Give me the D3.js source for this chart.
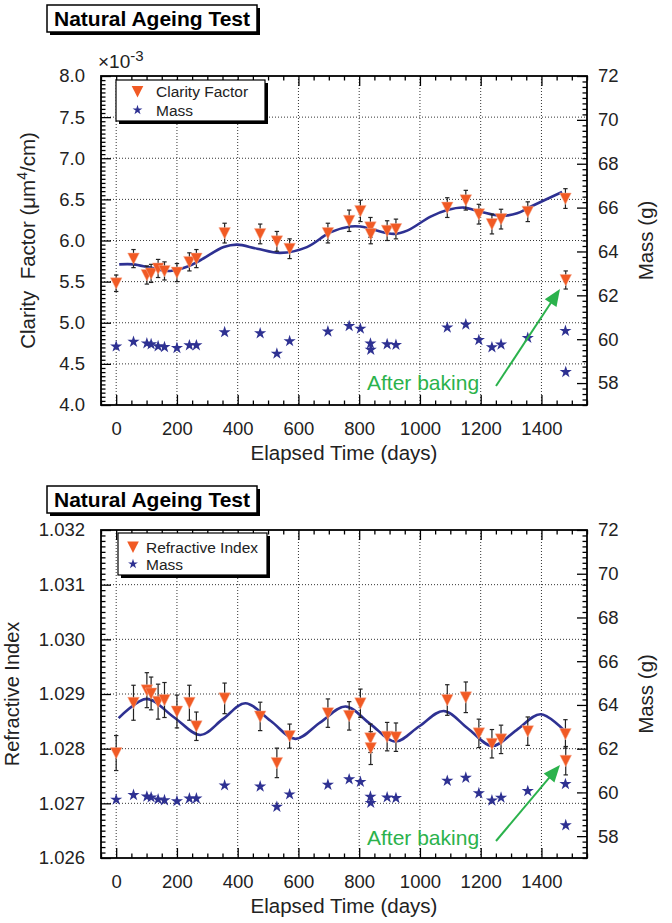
<!DOCTYPE html>
<html>
<head>
<meta charset="utf-8">
<script src="https://cdn.jsdelivr.net/npm/d3@7"></script>
<style>
  body { margin: 0; background: #fff; }
  svg { display: block; font-family: "Liberation Sans", Arial, Helvetica, sans-serif; }
</style>
</head>
<body>
<script>
// measurement days (shared by both panels)
const days = [0, 57, 101, 115, 138, 159, 200, 241, 264, 357, 474, 529, 571, 697, 767, 804, 837, 838,
  892, 921, 1090, 1151, 1194, 1237, 1267, 1355, 1479, 1480];

// clarity factor (x10^-3 um^4/cm) and its error
const clarity = [5.48, 5.78, 5.58, 5.60, 5.66, 5.63, 5.61, 5.74, 5.78, 6.09, 6.08, 5.99, 5.90, 6.09,
  6.24, 6.36, 6.16, 6.08, 6.12, 6.14, 6.40, 6.49, 6.32, 6.20, 6.26, 6.35, 6.51, 5.52];
const clarityErr = [0.10, 0.11, 0.11, 0.11, 0.11, 0.11, 0.11, 0.11, 0.11, 0.12, 0.12, 0.12, 0.12, 0.12,
  0.13, 0.13, 0.12, 0.12, 0.12, 0.12, 0.12, 0.12, 0.12, 0.12, 0.12, 0.12, 0.12, 0.11];

// refractive index and its error
const refIndex = [1.02792, 1.02884, 1.02907, 1.02901, 1.02886, 1.02889, 1.02868, 1.02884, 1.02841,
  1.02892, 1.02859, 1.02774, 1.02823, 1.02865, 1.02860, 1.02883, 1.02819, 1.02801, 1.02822, 1.02821,
  1.02889, 1.02894, 1.02828, 1.02809, 1.02817, 1.02832, 1.02827, 1.02778];
const refErr = [0.00032, 0.00032, 0.00032, 0.00030, 0.00032, 0.00032, 0.00030, 0.00032, 0.00026,
  0.00028, 0.00026, 0.00027, 0.00022, 0.00026, 0.00026, 0.00026, 0.00026, 0.00030, 0.00026, 0.00026,
  0.00028, 0.00028, 0.00026, 0.00026, 0.00026, 0.00026, 0.00026, 0.00026];

// mass (g)
const mass = [59.67, 59.88, 59.81, 59.77, 59.68, 59.64, 59.60, 59.72, 59.72, 60.32, 60.27, 59.34, 59.91,
  60.35, 60.60, 60.48, 59.80, 59.52, 59.77, 59.74, 60.53, 60.67, 59.96, 59.63, 59.76, 60.06, 60.38, 58.50];

// fitted curves
const clarityFitDays = [10, 57, 112, 178, 233, 277, 354, 398, 464, 540, 628, 705, 771, 804, 848, 914,
  958, 1035, 1090, 1144, 1199, 1265, 1320, 1364, 1468];
const clarityFit = [5.71, 5.71, 5.67, 5.63, 5.68, 5.76, 5.92, 5.95, 5.90, 5.85, 5.92, 6.10, 6.17, 6.17,
  6.13, 6.08, 6.12, 6.29, 6.37, 6.40, 6.35, 6.30, 6.33, 6.41, 6.59];
const refFitDays = [8, 101, 189, 277, 351, 425, 508, 590, 672, 755, 837, 919, 998, 1078, 1158, 1238,
  1318, 1397, 1474];
const refFit = [1.02856, 1.02891, 1.02858, 1.02825, 1.02854, 1.02883, 1.02851, 1.02818, 1.02848,
  1.02877, 1.02845, 1.02813, 1.02841, 1.02869, 1.02837, 1.02805, 1.02834, 1.02863, 1.02834];

// ticks
const xTicks = [0, 200, 400, 600, 800, 1000, 1200, 1400];
const clarityTicks = [4.0, 4.5, 5.0, 5.5, 6.0, 6.5, 7.0, 7.5, 8.0];
const refTicks = [1.026, 1.027, 1.028, 1.029, 1.030, 1.031, 1.032];
const massTicks = [58, 60, 62, 64, 66, 68, 70, 72];

const width = 672;
const height = 923;
const orange = '#f15a24';
const blue = '#2e3192';
const green = '#2bb24c';

const svg = d3.select('body')
  .append('svg')
  .attr('width', width)
  .attr('height', height);

const x = d3.scaleLinear().domain([-50, 1550]).range([101, 587]);

function arrow(g, x1, y1, x2, y2) {
  const dx = x2 - x1, dy = y2 - y1;
  const len = Math.sqrt(dx * dx + dy * dy);
  const ux = dx / len, uy = dy / len;
  const hl = 17, hw = 7;
  const bx = x2 - ux * hl, by = y2 - uy * hl;
  g.append('line')
    .attr('x1', x1).attr('y1', y1).attr('x2', bx + ux * 2).attr('y2', by + uy * 2)
    .attr('stroke', green).attr('stroke-width', 2);
  g.append('path')
    .attr('d', `M${x2},${y2}L${bx - uy * hw},${by + ux * hw}L${bx + uy * hw},${by - ux * hw}Z`)
    .attr('fill', green);
}

function drawPanel(p) {
  const g = svg.append('g');
  const top = p.top, bottom = p.bottom;
  const y = d3.scaleLinear().domain(p.yDomain).range([bottom, top]);
  const yM = d3.scaleLinear().domain([57, 72]).range([bottom, top]);

  // title box
  g.append('rect').attr('x', 50).attr('y', p.titleY + 3).attr('width', 210).attr('height', 27).attr('fill', '#000');
  g.append('rect').attr('x', 47).attr('y', p.titleY).attr('width', 210).attr('height', 27)
    .attr('fill', '#fff').attr('stroke', '#000').attr('stroke-width', 1.5);
  g.append('text').attr('x', 152).attr('y', p.titleY + 21).attr('text-anchor', 'middle')
    .attr('font-size', 21).attr('font-weight', 'bold').text('Natural Ageing Test');

  // grid
  const grid = g.append('g').attr('stroke', '#333').attr('stroke-width', 1).attr('stroke-dasharray', '1,2');
  grid.selectAll('.vx').data(xTicks).enter().append('line')
    .attr('x1', d => x(d)).attr('x2', d => x(d)).attr('y1', top).attr('y2', bottom);
  grid.selectAll('.hy').data(p.yTicks.slice(1, -1)).enter().append('line')
    .attr('x1', 101).attr('x2', 587).attr('y1', d => y(d)).attr('y2', d => y(d));

  // minor ticks
  const xMinor = d3.range(-50, 1551, 50).filter(d => d % 200 !== 0);
  g.append('g').attr('transform', `translate(0,${bottom})`)
    .call(d3.axisBottom(x).tickValues(xMinor).tickSize(-4.5).tickFormat(''));
  g.append('g').attr('transform', `translate(0,${top})`)
    .call(d3.axisTop(x).tickValues(xMinor).tickSize(-4.5).tickFormat(''));
  const yMinor = d3.range(p.yDomain[0], p.yDomain[1] + p.minorStep / 2, p.minorStep)
    .filter(d => !p.yTicks.some(t => Math.abs(t - d) < p.minorStep / 10));
  g.append('g').attr('transform', 'translate(101,0)')
    .call(d3.axisLeft(y).tickValues(yMinor).tickSize(-4.5).tickFormat(''));
  const mMinor = d3.range(57, 72.01, 0.25).filter(d => Math.abs(d / 2 - Math.round(d / 2)) > 0.01);
  g.append('g').attr('transform', 'translate(587,0)')
    .call(d3.axisRight(yM).tickValues(mMinor).tickSize(-4.5).tickFormat(''));

  // major axes
  g.append('g').attr('transform', `translate(0,${bottom})`)
    .call(d3.axisBottom(x).tickValues(xTicks).tickSizeInner(-10).tickSizeOuter(0).tickPadding(17).tickFormat(d3.format('d')));
  g.append('g').attr('transform', `translate(0,${top})`)
    .call(d3.axisTop(x).tickValues(xTicks).tickSizeInner(-10).tickSizeOuter(0).tickFormat(''));
  g.append('g').attr('transform', 'translate(101,0)')
    .call(d3.axisLeft(y).tickValues(p.yTicks).tickSizeInner(-10).tickSizeOuter(0).tickPadding(16).tickFormat(p.fmt));
  g.append('g').attr('transform', 'translate(587,0)')
    .call(d3.axisRight(yM).tickValues(massTicks).tickSizeInner(-10).tickSizeOuter(0).tickPadding(11));

  g.selectAll('.domain').remove();
  g.selectAll('.tick line').attr('stroke', '#000').attr('stroke-width', 1.3);
  g.selectAll('.tick text').attr('font-size', 18.5).attr('fill', '#222')
    .attr('font-family', '"Liberation Sans", Arial, sans-serif');

  // frame
  g.append('rect').attr('x', 101).attr('y', top).attr('width', 486).attr('height', bottom - top)
    .attr('fill', 'none').attr('stroke', '#000').attr('stroke-width', 1.8);

  // fit curve
  const line = d3.line().x(d => x(d[0])).y(d => y(d[1])).curve(d3.curveCatmullRom);
  g.append('path').datum(d3.zip(p.fitDays, p.fit)).attr('d', line)
    .attr('fill', 'none').attr('stroke', blue).attr('stroke-width', 2.6);

  const pts = days.map((d, i) => ({ day: d, v: p.values[i], e: p.errs[i], m: mass[i] }));

  // error bars
  const eb = g.append('g').attr('stroke', '#222').attr('stroke-width', 1.2);
  pts.forEach(d => {
    const cx = x(d.day), y1 = y(d.v + d.e), y2 = y(d.v - d.e);
    eb.append('line').attr('x1', cx).attr('x2', cx).attr('y1', y1).attr('y2', y2);
    eb.append('line').attr('x1', cx - 2.2).attr('x2', cx + 2.2).attr('y1', y1).attr('y2', y1);
    eb.append('line').attr('x1', cx - 2.2).attr('x2', cx + 2.2).attr('y1', y2).attr('y2', y2);
  });

  // triangles
  g.selectAll('.tri').data(pts).enter().append('path')
    .attr('transform', d => `translate(${x(d.day)},${y(d.v)})`)
    .attr('d', 'M-5.8,-5.5L5.8,-5.5L0,6Z')
    .attr('fill', orange).attr('stroke', '#f7b39a').attr('stroke-width', 0.5);

  // mass stars
  g.selectAll('.star').data(pts).enter().append('path')
    .attr('transform', d => `translate(${x(d.day)},${yM(d.m)})`)
    .attr('d', d3.symbol(d3.symbolStar, 46))
    .attr('fill', blue);

  // legend
  const lg = p.legend;
  g.append('rect').attr('x', lg.x + 3).attr('y', lg.y + 3).attr('width', lg.w).attr('height', lg.h).attr('fill', '#000');
  g.append('rect').attr('x', lg.x).attr('y', lg.y).attr('width', lg.w).attr('height', lg.h)
    .attr('fill', '#fff').attr('stroke', '#000').attr('stroke-width', 1.2);
  g.append('path').attr('transform', `translate(${lg.mx},${lg.r1})`).attr('d', 'M-5.8,-5.5L5.8,-5.5L0,6Z').attr('fill', orange);
  g.append('path').attr('transform', `translate(${lg.mx},${lg.r2})`).attr('d', d3.symbol(d3.symbolStar, 30)).attr('fill', blue);
  g.append('text').attr('x', lg.tx).attr('y', lg.r1 + 5.5).attr('font-size', 15.5).attr('fill', '#222').text(p.label);
  g.append('text').attr('x', lg.tx).attr('y', lg.r2 + 5.5).attr('font-size', 15.5).attr('fill', '#222').text('Mass');

  // axis titles
  g.append('text').attr('x', 344).attr('y', bottom + 55).attr('text-anchor', 'middle')
    .attr('font-size', 20.5).attr('fill', '#222').text('Elapsed Time (days)');
  g.append('text').attr('transform', `translate(653,${(top + bottom) / 2}) rotate(-90)`)
    .attr('text-anchor', 'middle').attr('font-size', 20.5).attr('fill', '#222').text('Mass (g)');
  p.yTitle(g, top, bottom);

  // annotation
  g.append('text').attr('x', 367).attr('y', p.noteY).attr('font-size', 21).attr('fill', green).text('After baking');
  arrow(g, 496, p.noteY - 4, 560, p.arrowTipY);
}

drawPanel({
  top: 76, bottom: 405, titleY: 5,
  yDomain: [4, 8], yTicks: clarityTicks, minorStep: 0.05, fmt: d3.format('.1f'),
  values: clarity, errs: clarityErr, fitDays: clarityFitDays, fit: clarityFit,
  label: 'Clarity Factor',
  legend: { x: 116, y: 80, w: 149, h: 41, mx: 137.5, r1: 91.5, r2: 110, tx: 156 },
  noteY: 390, arrowTipY: 289,
  yTitle: (g, top, bottom) => {
    const t = g.append('text').attr('transform', `translate(35,${(top + bottom) / 2}) rotate(-90)`)
      .attr('text-anchor', 'middle').attr('font-size', 20.5).attr('fill', '#222');
    t.append('tspan').text('Clarity\u00a0 Factor (\u03bcm');
    t.append('tspan').attr('dy', -8).attr('font-size', 14).text('4');
    t.append('tspan').attr('dy', 8).text('/cm)');
    // exponent label
    const e = g.append('text').attr('x', 98).attr('y', 68).attr('font-size', 19).attr('fill', '#222');
    e.append('tspan').text('\u00d710');
    e.append('tspan').attr('dy', -7).attr('font-size', 15).text('-3');
  }
});

drawPanel({
  top: 530, bottom: 858, titleY: 486,
  yDomain: [1.026, 1.032], yTicks: refTicks, minorStep: 0.0001, fmt: d3.format('.3f'),
  values: refIndex, errs: refErr, fitDays: refFitDays, fit: refFit,
  label: 'Refractive Index',
  legend: { x: 118, y: 533, w: 149, h: 42, mx: 133, r1: 547, r2: 564, tx: 146 },
  noteY: 845, arrowTipY: 765,
  yTitle: (g, top, bottom) => {
    g.append('text').attr('transform', `translate(19,${(top + bottom) / 2}) rotate(-90)`)
      .attr('text-anchor', 'middle').attr('font-size', 20).attr('fill', '#222').text('Refractive Index');
  }
});
</script>
</body>
</html>
